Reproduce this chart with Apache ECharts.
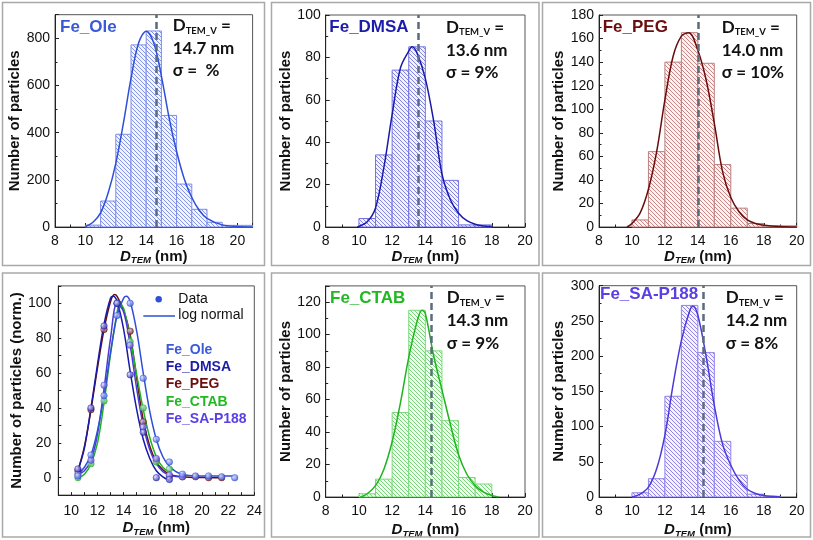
<!DOCTYPE html>
<html><head><meta charset="utf-8">
<script src="https://cdn.jsdelivr.net/npm/echarts@6/dist/echarts.min.js"></script>
<style>html,body{margin:0;padding:0;background:#fff}#c{width:813px;height:540px}</style>
</head><body><div id="c"></div>
<script>
// ---------------- DATA ----------------
const BIN_W = 1;
// Fe_Ole
const oleBins   = [10,11,12,13,14,15,16,17,18,19,20];
const oleCounts = [8,110,393,772,831,473,182,75,20,7,7];
const oleFitX   = [10,10.5,11,11.5,12,12.5,13,13.5,14,14.5,15,15.5,16,16.5,17,17.5,18,19,20,21];
const oleFitY   = [2,20,60,145,270,440,630,780,830,780,640,465,320,205,125,70,37,9,2,0];
const oleDv = 14.65;
// Fe_DMSA
const dmsaBins   = [10,11,12,13,14,15,16,17];
const dmsaCounts = [4,34,74,85,50,22,1,1];
const dmsaFitX   = [9.9,10.5,11,11.5,12,12.5,13,13.2,13.5,14,14.5,15,15.5,16,16.5,17,17.5,18];
const dmsaFitY   = [0,2.5,9,28,53,75,83,85,82,70,50,25,13,6.5,3,1.3,0.5,0.2];
const dmsaDv = 13.55;
// Fe_PEG
const pegBins   = [10,11,12,13,14,15,16,17,18,19];
const pegCounts = [6,64,140,165,139,53,16,3,1,1];
const pegFitX   = [9.7,10,10.5,11,11.5,12,12.5,13,13.45,14,14.5,15,15.5,16,16.5,17,17.5,18,19,20];
const pegFitY   = [0,3,12,32,64,108,145,162,165,150,125,88,47,25,13,6,3,1.5,0.4,0];
const pegDv = 14.0;
// Fe_CTAB
const ctabBins   = [10,11,12,13,14,15,16,17];
const ctabCounts = [2,11,52,115,90,47,12,8];
const ctabFitX   = [10.1,10.5,11,11.5,12,12.5,13,13.5,13.8,14,14.5,15,15.5,16,16.5,17,17.5,18,18.4];
const ctabFitY   = [0,2,7,17,34,58,86,108,115,113,87,66,45,26,14,7,3,1,0];
const ctabDv = 14.37;
// Fe_SA-P188
const saBins   = [10,11,12,13,14,15,16,17,18];
const saCounts = [6,26,143,272,205,79,31,4,1];
const saFitX   = [10,10.5,11,11.5,12,12.5,13,13.5,13.7,14,14.5,15,15.5,16,16.5,17,17.5,18,19];
const saFitY   = [0,4,14,40,88,160,222,264,271,258,200,130,75,45,24,11,5,2,0];
const saDv = 14.34;

// Normalized comparison panel (points = data, lines = log normal)
const normOleX  = [10.5,11.5,12.5,13.5,14.5,15.5,16.5,17.5,18.5,19.5,20.5,21.5,22.5];
const normOleY  = [1,13,47,93,100,57,22,9,2,1,1,0.5,0];
const normDmsaX = [10.5,11.5,12.5,13.5,14.5,15.5,16.5,17.5];
const normDmsaY = [5,40,87,100,59,26,0,-1];
const normPegX  = [10.5,11.5,12.5,13.5,14.5,15.5,16.5,17.5,18.5,19.5,20.5,21.5];
const normPegY  = [4,39,85,100,84,32,10,1,0.5,0.5,0,0];
const normCtabX = [10.5,11.5,12.5,13.5,14.5,15.5,16.5,17.5];
const normCtabY = [0,8,44,100,78,40,9,5];
const normSaX   = [10.5,11.5,12.5,13.5,14.5,15.5,16.5,17.5,18.5];
const normSaY   = [2,10,53,100,76,29,11,1.5,0.5];

const lnOleX  = [10.5,11,11.5,12,12.5,13,13.5,14,14.2,14.5,15,15.5,16,16.5,17,17.5,18,18.5,19,20,21,22,22.5];
const lnOleY  = [2,6,13,27,47,72,93,103,104,101,84,60,38,22,12,6.5,3.5,2,1.3,1,1,1,1];
const lnDmsaX = [10.5,11,11.5,12,12.5,13,13.2,13.5,14,14.5,15,15.5,16,16.5,17,17.5];
const lnDmsaY = [4,17,40,65,88,103,104,101,85,61,39,22,11,4,0.5,-1.5];
const lnPegX  = [10.5,11,11.5,12,12.5,13,13.3,13.5,14,14.5,15,15.5,16,16.5,17,17.5,18,19,20,21,21.5];
const lnPegY  = [4,18,39,63,85,101,105,104,96,82,57,33,18,9,4.5,2,1,0.3,0.1,0,0];
const lnCtabX = [10.5,11,11.5,12,12.5,13,13.5,13.7,14,14.5,15,15.5,16,16.5,17,17.5];
const lnCtabY = [0,2,8,20,43,71,95,100,97,80,59,39,23,12,6,3];
const lnSaX   = [10.5,11,11.5,12,12.5,13,13.5,14,14.5,15,15.5,16,16.5,17,17.5,18,18.5];
const lnSaY   = [2,4,10,25,51,80,100,95,76,51,30,16,8,3.5,1.5,0.6,0.5];

const sampleNames = ['Fe_Ole','Fe_DMSA','Fe_PEG','Fe_CTAB','Fe_SA-P188'];
const dValues = ['14.7 nm','13.6 nm','14.0 nm','14.3 nm','14.2 nm'];
const sigmaValues = ['σ =  %','σ = 9%','σ = 10%','σ = 9%','σ = 8%'];

// ---------------- STYLE ----------------
const FONT = "'Liberation Sans', Arial, sans-serif";
const AFONT = "Lato, 'Liberation Sans', sans-serif";
const C = {
  ole:  {line:'#2f4fd6', hatch:'rgba(70,95,225,0.65)', edge:'#7d8de8', bg:'#f3f5fd', title:'#3a5ad8'},
  dmsa: {line:'#1a1aa8', hatch:'rgba(70,70,210,0.65)', edge:'#7474e2', bg:'#f3f3fd', title:'#1c1caa'},
  peg:  {line:'#6b0c0c', hatch:'rgba(170,60,60,0.6)', edge:'#b98080', bg:'#fcf3f3', title:'#6b0e0e'},
  ctab: {line:'#1fb41f', hatch:'rgba(40,185,40,0.6)', edge:'#7dd87d', bg:'#f3fcf3', title:'#22b822'},
  sa:   {line:'#4b3ad8', hatch:'rgba(90,70,225,0.65)', edge:'#8f84ea', bg:'#f5f3fd', title:'#5a40e4'}
};
function hatch(c) {
  const cv = document.createElement('canvas'); cv.width = 4; cv.height = 4;
  const g = cv.getContext('2d');
  g.fillStyle = c.bg; g.fillRect(0,0,4,4);
  g.strokeStyle = c.hatch; g.lineWidth = 1;
  g.beginPath();
  g.moveTo(-1,-1); g.lineTo(5,5);
  g.moveTo(-1,3); g.lineTo(1,5);
  g.moveTo(3,-1); g.lineTo(5,1);
  g.stroke();
  return {image: cv, repeat: 'repeat'};
}

const grids = [
  {left:55,    top:14.7,  width:197.6, height:212.3},
  {left:325.7, top:15,    width:199.3, height:212},
  {left:599,   top:15,    width:197.7, height:212},
  {left:58.3,  top:285.9, width:196,   height:209.2},
  {left:325.7, top:285.9, width:199.3, height:211.8},
  {left:599,   top:285.7, width:197.7, height:212}
].map(g => Object.assign({show:true, borderColor:'#555', borderWidth:1, backgroundColor:'transparent'}, g));

const xName = '{i|D}{s|TEM}{b| (nm)}';
const xNameStyle = {
  fontFamily: FONT, color:'#111',
  rich: {
    i: {fontSize:15, fontStyle:'italic', fontWeight:'bold', fontFamily:FONT, color:'#111', lineHeight:18},
    s: {fontSize:9.5, fontStyle:'italic', fontWeight:'bold', fontFamily:FONT, color:'#111', lineHeight:10, verticalAlign:'bottom'},
    b: {fontSize:15, fontWeight:'bold', fontFamily:FONT, color:'#111', lineHeight:18}
  }
};
function range(a, b, s) { const r = []; for (let v = a; v <= b + 1e-9; v += s) r.push(+v.toFixed(6)); return r; }

function xAxis(i, min, max, interval, labels, opts) {
  return Object.assign({
    type:'value', gridIndex:i, min, max, interval,
    name: xName, nameLocation:'middle', nameGap: i >= 3 ? 24 : 18, nameTextStyle: xNameStyle,
    axisLine:{show:true, onZero:false, lineStyle:{color:'#222', width:1}},
    axisTick:{show:true, inside:true, length:4, lineStyle:{color:'#222'}},
    minorTick:{show:true, splitNumber:2, length:2.5, lineStyle:{color:'#222'}},
    splitLine:{show:false}, minorSplitLine:{show:false},
    axisLabel:{fontSize:14, fontFamily:FONT, color:'#111', margin: i === 3 ? 9 : 7, customValues: labels}
  }, opts || {});
}
function yAxis(i, min, max, interval, labels, name, opts) {
  return Object.assign({
    type:'value', gridIndex:i, min, max, interval,
    name, nameLocation:'middle', nameRotate:90, nameGap: i === 0 ? 31.5 : 30.5,
    nameTextStyle:{fontSize:15, fontWeight:'bold', fontFamily:FONT, color:'#111'},
    axisLine:{show:true, onZero:false, lineStyle:{color:'#222', width:1}},
    axisTick:{show:true, inside:true, length:4, lineStyle:{color:'#222'}},
    minorTick:{show:true, splitNumber:2, length:2.5, lineStyle:{color:'#222'}},
    splitLine:{show:false}, minorSplitLine:{show:false},
    axisLabel:{fontSize:14, fontFamily:FONT, color:'#111', margin: i === 3 ? 7 : 5, customValues: labels}
  }, opts || {});
}

const xAxes = [
  xAxis(0, 8, 21, 2, range(8,20,2)),
  xAxis(1, 8, 20, 2, range(8,20,2)),
  xAxis(2, 8, 20, 2, range(8,20,2)),
  xAxis(3, 9, 24, 1, range(10,24,2), {minorTick:{show:false}, axisTick:{show:true, inside:true, length:3, lineStyle:{color:'#222'}}}),
  xAxis(4, 8, 20, 2, range(8,20,2)),
  xAxis(5, 8, 20, 2, range(8,20,2))
];
const NP = 'Number of particles';
const yAxes = [
  yAxis(0, 0, 900, 200, range(0,800,200), NP),
  yAxis(1, 0, 100, 20, range(0,100,20), NP),
  yAxis(2, 0, 180, 20, range(0,180,20), NP),
  yAxis(3, -10, 110, 10, range(0,100,20), 'Number of particles (norm.)', {minorTick:{show:false}, axisTick:{show:true, inside:true, length:3, lineStyle:{color:'#222'}}}),
  yAxis(4, 0, 130, 20, range(0,120,20), NP),
  yAxis(5, 0, 300, 50, range(0,300,50), NP)
];

function histSeries(i, bins, counts, c) {
  const pat = hatch(c);
  return {
    type:'custom', xAxisIndex:i, yAxisIndex:i, z:1, silent:true,
    data: bins.map((b, k) => [b, b + BIN_W, counts[k]]),
    encode: {x:[0,1], y:2},
    renderItem: (params, api) => {
      const p0 = api.coord([api.value(0), api.value(2)]);
      const p1 = api.coord([api.value(1), 0]);
      return {type:'rect', shape:{x:p0[0], y:p0[1], width:p1[0]-p0[0], height:p1[1]-p0[1]},
              style:{fill: pat, stroke: c.edge, lineWidth: 1}};
    }
  };
}
function fitSeries(i, xs, ys, c, dv) {
  const s = {
    type:'line', xAxisIndex:i, yAxisIndex:i, z:3, smooth:0.35, symbol:'none', silent:true,
    data: xs.map((x, k) => [x, ys[k]]),
    lineStyle:{color:c.line, width:1.5}
  };
  if (dv !== undefined) {
    s.markLine = {silent:true, symbol:'none', label:{show:false},
      lineStyle:{color:'#5b6c7c', width:2.5, type:[7,4]}, data:[{xAxis: dv}]};
  }
  return s;
}
function dotSeries(xs, ys, c) {
  return {
    type:'scatter', xAxisIndex:3, yAxisIndex:3, z:4, symbol:'circle', symbolSize:6.5, silent:true,
    data: xs.map((x, k) => [x, ys[k]]),
    itemStyle:{color: {type:'radial', x:0.35, y:0.35, r:0.7, colorStops:[{offset:0, color:'#d8dcff'},{offset:1, color:c.line}]}, borderColor:c.line, borderWidth:0.6}
  };
}

const series = [
  histSeries(0, oleBins, oleCounts, C.ole),   fitSeries(0, oleFitX, oleFitY, C.ole, oleDv),
  histSeries(1, dmsaBins, dmsaCounts, C.dmsa), fitSeries(1, dmsaFitX, dmsaFitY, C.dmsa, dmsaDv),
  histSeries(2, pegBins, pegCounts, C.peg),   fitSeries(2, pegFitX, pegFitY, C.peg, pegDv),
  histSeries(4, ctabBins, ctabCounts, C.ctab), fitSeries(4, ctabFitX, ctabFitY, C.ctab, ctabDv),
  histSeries(5, saBins, saCounts, C.sa),      fitSeries(5, saFitX, saFitY, C.sa, saDv),
  fitSeries(3, lnPegX, lnPegY, C.peg),
  fitSeries(3, lnCtabX, lnCtabY, C.ctab),
  fitSeries(3, lnSaX, lnSaY, C.sa),
  fitSeries(3, lnDmsaX, lnDmsaY, C.dmsa),
  fitSeries(3, lnOleX, lnOleY, C.ole),
  dotSeries(normPegX, normPegY, C.peg),
  dotSeries(normCtabX, normCtabY, C.ctab),
  dotSeries(normSaX, normSaY, C.sa),
  dotSeries(normDmsaX, normDmsaY, C.dmsa),
  dotSeries(normOleX, normOleY, C.ole)
];

// ---------------- GRAPHICS (frames, labels) ----------------
const g = [];
[[2.5,2.5,262,263],[271.5,2.5,267.5,263],[542.5,2.5,268,263],
 [2.5,273,262,264],[271.5,273,267.5,264],[542.5,273,268,264]].forEach(r => {
  g.push({type:'rect', shape:{x:r[0], y:r[1], width:r[2], height:r[3]}, style:{fill:'none', stroke:'#a9a9a9', lineWidth:1.5}, silent:true, z:10});
});
function txt(x, baseline, text, font, color, size) {
  g.push({type:'text', x, y: baseline - 0.34*size, silent:true, z:20,
    style:{text, font, fill:color, align:'left', verticalAlign:'middle'}});
}
// sample titles
const titlePos = [[60,33.3,C.ole],[329.3,33.3,C.dmsa],[602.7,33.3,C.peg],[330,304.3,C.ctab],[600,300,C.sa]];
titlePos.forEach((p, k) => txt(p[0], p[1], sampleNames[k], 'bold 17px ' + FONT, p[2].title, 17));
// annotations
const annPos = [[172.7,31.7],[446,33.3],[721.7,33.3],[446.7,304],[725.7,304]];
annPos.forEach((p, k) => {
  g.push({type:'text', x:p[0], y:p[1] - 16, silent:true, z:20,
    style:{text:'{d|D}{s|TEM_V}{d| =}', verticalAlign:'top', align:'left',
      rich:{d:{font:'bold 17px ' + AFONT, fill:'#111', lineHeight:20},
            s:{font:'bold 9.5px ' + AFONT, fill:'#111', lineHeight:12, verticalAlign:'bottom'}}}});
  txt(p[0], p[1] + 22.6, dValues[k], 'bold 17px ' + AFONT, '#111', 17);
  txt(p[0], p[1] + 45, sigmaValues[k], 'bold 17px ' + AFONT, '#111', 17);
});
// panel 4 legend
g.push({type:'circle', shape:{cx:158.7, cy:299.3, r:3.2}, style:{fill:C.ole.line}, silent:true, z:20});
txt(178.3, 304, 'Data', '14px ' + FONT, '#111', 14);
g.push({type:'line', shape:{x1:143.3, y1:316, x2:175, y2:316}, style:{stroke:C.ole.line, lineWidth:1.5}, silent:true, z:20});
txt(178.3, 320, 'log normal', '14px ' + FONT, '#111', 14);
const listBase = [355, 372, 389.2, 406.6, 424];
const listCol = [C.ole.title, C.dmsa.title, C.peg.title, C.ctab.title, C.sa.title];
sampleNames.forEach((n, k) => txt(165.7, listBase[k], n, 'bold 14px ' + FONT, listCol[k], 14));

const chart = echarts.init(document.getElementById('c'), null, {renderer:'canvas'});
chart.setOption({
  animation:false, backgroundColor:'#fff',
  grid: grids, xAxis: xAxes, yAxis: yAxes, series, graphic: g
});
</script></body></html>
